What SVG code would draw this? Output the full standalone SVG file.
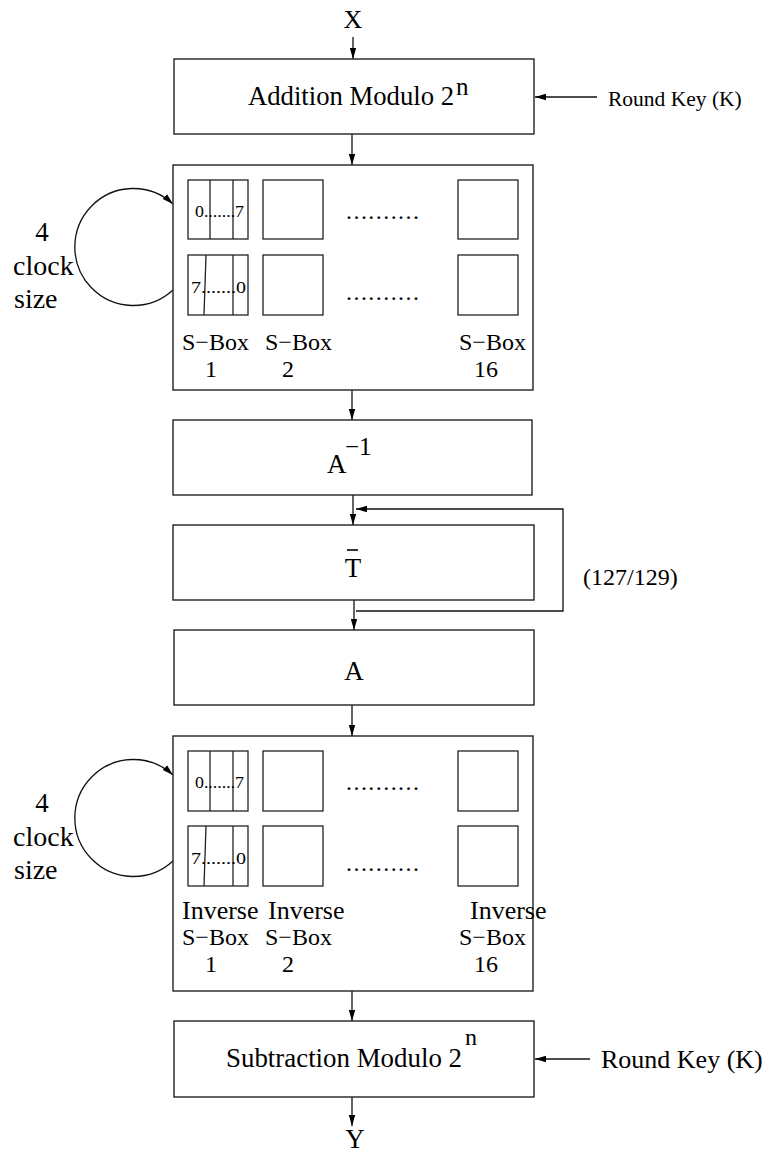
<svg xmlns="http://www.w3.org/2000/svg" width="780" height="1154" viewBox="0 0 780 1154">
<defs>
<marker id="ah" markerWidth="12" markerHeight="8" refX="11" refY="4" orient="auto" markerUnits="userSpaceOnUse">
<path d="M0,0.8 L11,4 L0,7.2 Z" fill="#000"/>
</marker>
<style>
.box{fill:#fff;stroke:#222;stroke-width:1.4}
.sb{fill:none;stroke:#222;stroke-width:1.3}
.ln{fill:none;stroke:#111;stroke-width:1.3}
.t{font-family:"Liberation Serif","Times New Roman",serif;fill:#000}
.c{text-anchor:middle}
</style>
</defs>
<rect width="780" height="1154" fill="#fff"/>

<g id="connectors">
<line class="ln" x1="353" y1="37" x2="353" y2="59" marker-end="url(#ah)"/>
<line class="ln" x1="352" y1="134" x2="352" y2="165" marker-end="url(#ah)"/>
<line class="ln" x1="352" y1="390" x2="352" y2="420" marker-end="url(#ah)"/>
<line class="ln" x1="353" y1="495" x2="353" y2="525" marker-end="url(#ah)"/>
<line class="ln" x1="354" y1="600" x2="354" y2="630" marker-end="url(#ah)"/>
<line class="ln" x1="352" y1="705" x2="352" y2="736" marker-end="url(#ah)"/>
<line class="ln" x1="352" y1="991" x2="352" y2="1021" marker-end="url(#ah)"/>
<line class="ln" x1="352" y1="1097" x2="352" y2="1126" marker-end="url(#ah)"/>
<line class="ln" x1="597" y1="97" x2="535" y2="97" marker-end="url(#ah)"/>
<line class="ln" x1="590" y1="1059" x2="535" y2="1059" marker-end="url(#ah)"/>
<polyline class="ln" points="356,611 563,611 563,509 356,509" marker-end="url(#ah)"/>
<path class="ln" d="M173,290 A58.5,58.5 0 1 1 173,204" marker-end="url(#ah)"/>
<path class="ln" d="M173,861 A58.5,58.5 0 1 1 173,775" marker-end="url(#ah)"/>
</g>

<g id="input-x"><text class="t c" x="353" y="28" font-size="26">X</text></g>

<g id="addition">
<rect class="box" x="174" y="59" width="360" height="75"/>
<text class="t" x="248" y="105" font-size="27" textLength="206" lengthAdjust="spacingAndGlyphs">Addition Modulo 2</text>
<text class="t" x="456" y="95" font-size="25">n</text>
</g>
<g id="round-key-top"><text class="t" x="608" y="106" font-size="21.5">Round Key (K)</text></g>

<g id="sbox-layer">
<rect class="box" x="173" y="165" width="360" height="225"/>
<rect class="sb" x="188" y="180" width="60" height="59"/>
<line class="sb" x1="210" y1="180" x2="210" y2="239"/>
<line class="sb" x1="233" y1="180" x2="233" y2="239"/>
<text class="t" x="195" y="217" font-size="17" textLength="49" lengthAdjust="spacingAndGlyphs">0.......7</text>
<rect class="sb" x="188" y="255" width="60" height="60"/>
<line class="sb" x1="206" y1="255" x2="204" y2="315"/>
<line class="sb" x1="233" y1="255" x2="233" y2="315"/>
<text class="t" x="191" y="293" font-size="17" textLength="55" lengthAdjust="spacingAndGlyphs">7.......0</text>
<rect class="sb" x="263" y="180" width="60" height="59"/>
<rect class="sb" x="263" y="255" width="60" height="60"/>
<rect class="sb" x="458" y="180" width="60" height="59"/>
<rect class="sb" x="458" y="255" width="60" height="60"/>
<text class="t" x="346" y="219" font-size="24" textLength="73" lengthAdjust="spacing">..........</text>
<text class="t" x="346" y="300" font-size="24" textLength="73" lengthAdjust="spacing">..........</text>
<text class="t" x="182" y="350" font-size="24">S−Box</text>
<text class="t c" x="211" y="377" font-size="24">1</text>
<text class="t" x="265" y="350" font-size="24">S−Box</text>
<text class="t c" x="288" y="377" font-size="24">2</text>
<text class="t" x="459" y="350" font-size="24">S−Box</text>
<text class="t c" x="486" y="377" font-size="24">16</text>
</g>
<g id="clock-label-top">
<text class="t c" x="42" y="241" font-size="27">4</text>
<text class="t" x="13" y="275" font-size="28">clock</text>
<text class="t" x="14" y="308" font-size="28">size</text>
</g>

<g id="a-inverse">
<rect class="box" x="173" y="420" width="359" height="75"/>
<text class="t" x="327" y="473" font-size="27">A</text>
<text class="t" x="345" y="455" font-size="25">−1</text>
</g>

<g id="t-bar">
<rect class="box" x="173" y="525" width="361" height="75"/>
<text class="t c" x="353" y="577" font-size="27">T</text>
<line x1="347" y1="550" x2="358" y2="550" stroke="#000" stroke-width="1.6"/>
</g>
<g id="iterations"><text class="t" x="583" y="585" font-size="24">(127/129)</text></g>

<g id="a">
<rect class="box" x="174" y="630" width="360" height="75"/>
<text class="t c" x="354" y="680" font-size="27">A</text>
</g>

<g id="inverse-sbox-layer">
<rect class="box" x="173" y="736" width="360" height="255"/>
<rect class="sb" x="188" y="751" width="60" height="60"/>
<line class="sb" x1="210" y1="751" x2="210" y2="811"/>
<line class="sb" x1="233" y1="751" x2="233" y2="811"/>
<text class="t" x="195" y="788" font-size="17" textLength="49" lengthAdjust="spacingAndGlyphs">0.......7</text>
<rect class="sb" x="188" y="826" width="60" height="60"/>
<line class="sb" x1="206" y1="826" x2="204" y2="886"/>
<line class="sb" x1="233" y1="826" x2="233" y2="886"/>
<text class="t" x="191" y="864" font-size="17" textLength="55" lengthAdjust="spacingAndGlyphs">7.......0</text>
<rect class="sb" x="263" y="751" width="60" height="60"/>
<rect class="sb" x="263" y="826" width="60" height="60"/>
<rect class="sb" x="458" y="751" width="60" height="60"/>
<rect class="sb" x="458" y="826" width="60" height="60"/>
<text class="t" x="346" y="790" font-size="24" textLength="73" lengthAdjust="spacing">..........</text>
<text class="t" x="346" y="871" font-size="24" textLength="73" lengthAdjust="spacing">..........</text>
<text class="t" x="182" y="919" font-size="26">Inverse</text>
<text class="t" x="268" y="919" font-size="26">Inverse</text>
<text class="t" x="470" y="919" font-size="26">Inverse</text>
<text class="t" x="182" y="945" font-size="24">S−Box</text>
<text class="t" x="265" y="945" font-size="24">S−Box</text>
<text class="t" x="459" y="945" font-size="24">S−Box</text>
<text class="t c" x="211" y="972" font-size="24">1</text>
<text class="t c" x="288" y="972" font-size="24">2</text>
<text class="t c" x="486" y="972" font-size="24">16</text>
</g>
<g id="clock-label-bottom">
<text class="t c" x="42" y="812" font-size="27">4</text>
<text class="t" x="13" y="846" font-size="28">clock</text>
<text class="t" x="14" y="879" font-size="28">size</text>
</g>

<g id="subtraction">
<rect class="box" x="174" y="1021" width="360" height="76"/>
<text class="t" x="226" y="1067" font-size="27" textLength="236" lengthAdjust="spacingAndGlyphs">Subtraction Modulo 2</text>
<text class="t" x="465" y="1045" font-size="24">n</text>
</g>
<g id="round-key-bottom"><text class="t" x="601" y="1068" font-size="26">Round Key (K)</text></g>

<g id="output-y"><text class="t c" x="355" y="1148" font-size="27">Y</text></g>
</svg>
